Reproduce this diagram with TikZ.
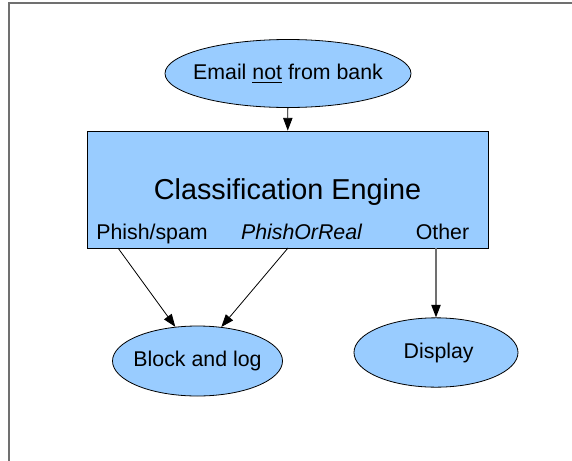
\documentclass[tikz,border=0pt]{standalone}
\usepackage{fontspec}
\setmainfont{Liberation Sans}
\usetikzlibrary{shapes.geometric,arrows.meta}
\definecolor{skyblue}{HTML}{99CCFF}
\definecolor{framegray}{HTML}{707070}
\newcommand{\ovaltext}[1]{\makebox[0pt]{#1}}
\begin{document}
\begin{tikzpicture}[x=0.75pt, y=-0.75pt, line width=0.6pt,
    >={Triangle[length=9.5pt,width=7pt]},
    bubble/.style={ellipse, draw, fill=skyblue, inner sep=0pt, font=\fontsize{16}{19}\selectfont},
    engbox/.style={rectangle, draw, fill=skyblue, minimum width=300.75pt, minimum height=87.75pt},
    outlabel/.style={anchor=base, inner sep=0pt, font=\fontsize{16}{19}\selectfont}]
  \useasboundingbox (0,0) rectangle (572,461);
  \draw [framegray, line width=1.4pt] (9,461) -- (9,3) -- (572,3);
  \node[bubble, minimum width=184.5pt, minimum height=51pt] (email) at (288,73.5) {\ovaltext{Email \underline{not} from bank}};
  \node[engbox] (engine) at (287.5,189.5) {};
  \node[anchor=base, inner sep=0pt, font=\fontsize{21.6}{25}\selectfont] (title) at (287.5,199.5) {Classification Engine};
  \node[outlabel] (phish) at (152,239) {Phish/spam};
  \node[outlabel] (phishorreal) at (301.5,239) {\itshape PhishOrReal};
  \node[outlabel] (other) at (442.5,239) {Other};
  \node[bubble, minimum width=127.5pt, minimum height=52.5pt] (block) at (197.5,361) {\ovaltext{Block and log}};
  \node[bubble, minimum width=123pt, minimum height=52pt] (display) at (436,352.5) {\ovaltext{\hspace{4pt}Display}};
  \coordinate (phishout) at (118,248);
  \coordinate (realout) at (288,248);
  \coordinate (otherout) at (436,248);
  \draw[->] (email) -- (engine);
  \draw[->] (phishout) -- (block.123);
  \draw[->] (realout) -- (block.55);
  \draw[-{Triangle[length=9.5pt,width=7pt,black]}, framegray, line width=1.1pt] (otherout) -- (display);
\end{tikzpicture}
\end{document}
